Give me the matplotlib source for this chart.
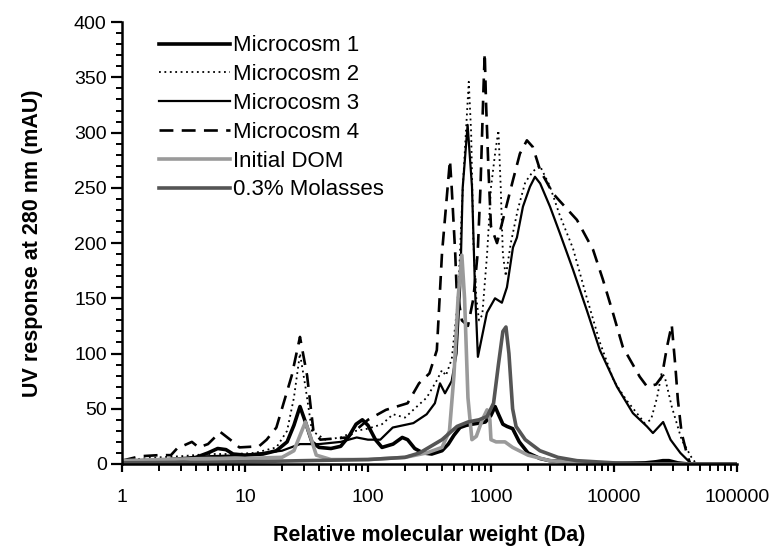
import matplotlib
matplotlib.use("Agg")
import matplotlib.pyplot as plt
from matplotlib.ticker import FixedLocator, MultipleLocator, LogLocator, NullFormatter

plt.rcParams['font.family'] = ['Liberation Sans', 'DejaVu Sans']
plt.rcParams['lines.scale_dashes'] = False

# ---------------- data ----------------
m1_mw = [1, 1.5, 2, 3, 4, 5, 6, 7, 8, 10, 14, 18, 22, 25, 28, 31, 35, 40, 50, 60, 70, 80,
         90, 100, 115, 130, 160, 190, 210, 240, 280, 330, 400, 450, 500, 560, 630, 700, 800,
         900, 1000, 1080, 1150, 1250, 1350, 1500, 1700, 2000, 2500, 3000, 4000, 6000, 10000,
         18000, 22000, 25000, 28000, 33000, 40000, 100000]
m1_val = [2, 2, 3, 4, 6, 10, 14, 13, 9, 8, 9, 12, 20, 35, 52, 38, 20, 15, 14, 16, 25, 36,
          40, 35, 22, 15, 18, 24, 22, 14, 10, 9, 12, 18, 26, 33, 35, 36, 37, 38, 44, 52, 45,
          36, 34, 32, 20, 10, 5, 3, 2, 1, 0.5, 1, 2, 3, 3, 1, 0, 0]

m2_mw = [1, 1.5, 2, 3, 5, 8, 12, 18, 22, 25, 28, 31, 35, 45, 60, 80, 100, 130, 160, 200,
         250, 300, 360, 400, 430, 480, 540, 590, 640, 660, 690, 720, 760, 800, 850, 930,
         1000, 1080, 1150, 1200, 1250, 1320, 1450, 1650, 1900, 2200, 2500, 3000, 3630, 4650,
         6030, 7690, 10000, 12600, 17800, 20000, 22400, 24500, 26000, 29500, 35500, 42700,
         46800, 100000]
m2_val = [3, 5, 6, 7, 9, 9, 10, 15, 30, 60, 100, 70, 30, 22, 24, 30, 32, 36, 45, 42,
          52, 60, 75, 85, 80, 95, 150, 250, 320, 346, 300, 200, 150, 130, 135, 190,
          250, 281, 302, 251, 190, 170, 200, 230, 255, 265, 270, 252, 225, 195,
          150, 110, 75, 58, 37, 40, 60, 83, 78, 52, 22, 6,
          0, 0]

m3_mw = [1, 2, 5, 10, 20, 28, 40, 60, 81, 100, 126, 159, 234, 300, 350, 385, 423, 479, 525,
         562, 589, 646, 701, 741, 783, 927, 1079, 1227, 1349, 1510, 1626, 1820, 2075, 2280,
         2512, 3020, 3631, 4645, 6026, 7691, 10570, 14260, 18540, 20750, 25120, 28840,
         34670, 42660, 100000]
m3_val = [2, 4, 7, 8, 12, 18, 18, 20, 24, 22, 22, 33, 37, 45, 55, 73, 64, 75, 100,
          160, 250, 307, 251, 160, 97, 137, 150, 146, 160, 196, 205, 233, 251, 260,
          254, 233, 209, 176, 139, 103, 70, 46, 34, 28, 38, 22,
          10, 0, 0]

m4_mw = [1, 1.4, 2, 2.5, 2.8, 3.7, 4.2, 5, 6.3, 8, 9, 13, 15, 18, 24, 28, 32, 36, 41, 68,
         100, 140, 210, 260, 316, 363, 400, 464, 479, 512, 525, 580, 650, 720, 780, 822, 870,
         890, 912, 955, 1000, 1120, 1510, 1720, 1960, 2190, 2510, 3190, 3630, 5000, 6760,
         8130, 9800, 11800, 16200, 18600, 22000, 24500, 27000, 29500, 31600, 33100, 35500,
         39000, 41700, 100000]
m4_val = [3, 7, 8, 8, 14, 20, 15, 18, 29, 20, 15, 16, 22, 33, 80, 115, 80, 30, 22, 24,
          40, 49, 55, 73, 82, 103, 191, 275, 251, 191, 160, 130, 125, 150, 191, 251, 341,
          372, 327, 266, 215, 200, 257, 281, 293, 287, 266, 245, 238, 221, 194,
          167, 137, 106, 79, 70, 72, 79, 106, 126, 88, 58, 28,
          10, 0, 0]

dom_mw = [1, 2, 5, 10, 20, 25, 29, 31, 34, 38, 50, 100, 200, 300, 400, 460, 500, 540, 580,
          610, 650, 700, 760, 850, 930, 980, 1000, 1100, 1300, 1500, 2000, 3000, 5000, 10000,
          100000]
dom_val = [3, 4, 5, 5, 6, 12, 30, 38, 25, 8, 4, 4, 6, 10, 15, 30, 80, 150, 189,
           150, 60, 22, 25, 40, 49, 40, 22, 20, 20, 15, 8, 3, 1, 0, 0]

mol_mw = [1, 10, 30, 100, 200, 263, 400, 530, 650, 800, 930, 1050, 1150, 1250, 1324, 1400,
          1500, 1600, 1900, 2500, 3500, 5000, 10000, 20000, 100000]
mol_val = [1, 2, 3, 4, 6, 10, 22, 34, 38, 40, 43, 55, 90, 120, 124, 100,
           50, 34, 22, 12, 6, 3, 1, 0, 0]

labels = ['Microcosm 1', 'Microcosm 2', 'Microcosm 3', 'Microcosm 4',
          'Initial DOM', '0.3% Molasses']
x_ticks = [1, 10, 100, 1000, 10000, 100000]
x_ticklabels = ['1', '10', '100', '1000', '10000', '100000']

# ---------------- figure ----------------
fig = plt.figure(figsize=(7.79, 5.54), dpi=100)
ax = fig.add_axes([0.1566, 0.1625, 0.7894, 0.7975])

ax.plot(m1_mw, m1_val, color='black', lw=2.6, label=labels[0], solid_joinstyle='round')
ax.plot(m2_mw, m2_val, color='black', lw=1.3, dashes=[1.3, 2.6], label=labels[1])
ax.plot(m3_mw, m3_val, color='black', lw=1.6, label=labels[2])
ax.plot(m4_mw, m4_val, color='black', lw=1.9, dashes=[10, 6], label=labels[3])
ax.plot(dom_mw, dom_val, color='#9a9a9a', lw=2.6, label=labels[4])
ax.plot(mol_mw, mol_val, color='#555555', lw=2.6, label=labels[5])

ax.set_xscale('log')
ax.set_xlim(1, 100000)
ax.set_ylim(0, 400)

ax.xaxis.set_major_locator(FixedLocator(x_ticks))
ax.set_xticklabels(x_ticklabels)
ax.xaxis.set_minor_locator(LogLocator(base=10, subs=range(2, 10), numticks=20))
ax.xaxis.set_minor_formatter(NullFormatter())
ax.yaxis.set_major_locator(MultipleLocator(50))
ax.yaxis.set_minor_locator(MultipleLocator(10))

for s in ['top', 'right']:
    ax.spines[s].set_visible(False)
for s in ['left', 'bottom']:
    ax.spines[s].set_linewidth(1.8)

ax.tick_params(axis='both', which='major', direction='out', width=1.6, labelsize=14,
               colors='black')
ax.tick_params(axis='y', which='major', length=8, pad=3)
ax.tick_params(axis='y', which='minor', length=4, width=1.4)
ax.tick_params(axis='x', which='major', length=6, pad=12)
ax.tick_params(axis='x', which='minor', length=5, width=1.4)

ax.set_ylabel('UV response at 280 nm (mAU)', fontsize=15.5, fontweight='bold', labelpad=22)
ax.set_xlabel('Relative molecular weight (Da)', fontsize=15.5, fontweight='bold', labelpad=14)

leg = ax.legend(loc='upper left', bbox_to_anchor=(0.045, 0.99), frameon=False,
                fontsize=16, handlelength=3.2, handletextpad=0.15, labelspacing=0.35,
                borderaxespad=0)

fig.savefig('out.png', dpi=100)
